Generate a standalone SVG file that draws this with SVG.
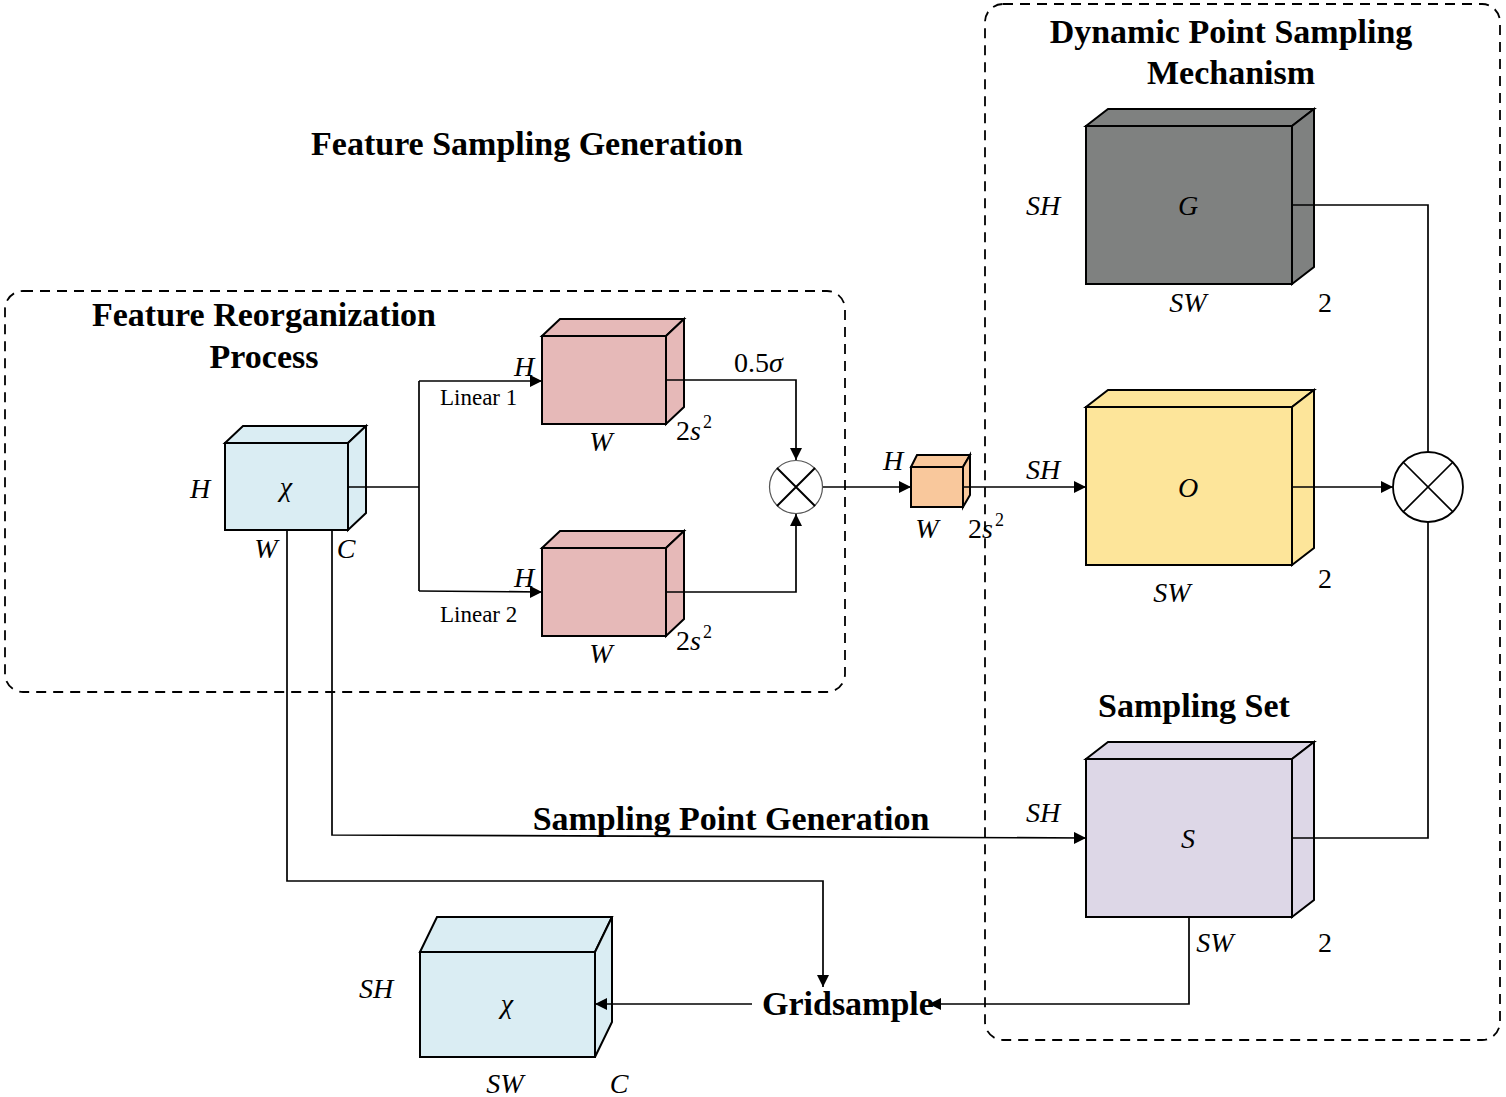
<svg xmlns="http://www.w3.org/2000/svg" width="1506" height="1097" viewBox="0 0 1506 1097">
<defs>
<style>
.frame{fill:none;stroke:#000;stroke-width:1.8;stroke-dasharray:10 7}
.edge{stroke:#000;stroke-width:2;stroke-linejoin:miter}
.ln{fill:none;stroke:#000;stroke-width:1.7}
.arr{fill:none;stroke:#000;stroke-width:1.7;marker-end:url(#ah)}
.title{font-family:"Liberation Serif",serif;font-weight:bold;font-size:34px;fill:#000;text-anchor:middle}
.it{font-family:"Liberation Serif",serif;font-style:italic;font-size:28px;fill:#000;text-anchor:middle}
.rm{font-family:"Liberation Serif",serif;font-size:28px;fill:#000}
.sm{font-family:"Liberation Serif",serif;font-size:23px;fill:#000}
.blue{fill:#daedf3}
.pink{fill:#e6b9b8}
.orange{fill:#f9c89c}
.gray{fill:#7f8180}
.yellow{fill:#fde59a}
.lav{fill:#ddd7e7}
</style>
<marker id="ah" viewBox="0 0 10 10" refX="10" refY="5" markerWidth="12" markerHeight="12" markerUnits="userSpaceOnUse" orient="auto">
<path d="M0,0 L10,5 L0,10 z" fill="#000"/>
</marker>
</defs>
<rect width="1506" height="1097" fill="#fff"/>

<g id="frames">
<rect class="frame" x="5" y="291" width="840" height="401" rx="18"/>
<rect class="frame" x="985" y="4" width="515" height="1036" rx="18"/>
</g>

<g id="titles">
<text class="title" x="527" y="155">Feature Sampling Generation</text>
<text class="title" x="264" y="326">Feature Reorganization</text>
<text class="title" x="264" y="368">Process</text>
<text class="title" x="1231" y="43">Dynamic Point Sampling</text>
<text class="title" x="1231" y="84">Mechanism</text>
<text class="title" x="1194" y="717">Sampling Set</text>
<text class="title" x="731" y="830">Sampling Point Generation</text>
</g>

<g id="node-x">
<polygon class="blue edge" points="225,443 243,426 366,426 348,443"/>
<polygon class="blue edge" points="348,443 366,426 366,513 348,530"/>
<rect class="blue edge" x="225" y="443" width="123" height="87"/>
<text class="it" x="286" y="496" font-size="31">χ</text>
<text class="it" x="200" y="498">H</text>
<text class="it" x="266" y="558">W</text>
<text class="it" x="346" y="558">C</text>
</g>

<g id="node-linear1">
<polygon class="pink edge" points="542,336 560,319 684,319 666,336"/>
<polygon class="pink edge" points="666,336 684,319 684,407 666,424"/>
<rect class="pink edge" x="542" y="336" width="124" height="88"/>
<text class="it" x="524" y="376">H</text>
<text class="it" x="601" y="451">W</text>
<text class="rm" x="676" y="440">2<tspan font-style="italic">s</tspan><tspan font-size="18" dx="2" dy="-12">2</tspan></text>
</g>

<g id="node-linear2">
<polygon class="pink edge" points="542,548 560,531 684,531 666,548"/>
<polygon class="pink edge" points="666,548 684,531 684,619 666,636"/>
<rect class="pink edge" x="542" y="548" width="124" height="88"/>
<text class="it" x="524" y="587">H</text>
<text class="it" x="601" y="663">W</text>
<text class="rm" x="676" y="650">2<tspan font-style="italic">s</tspan><tspan font-size="18" dx="2" dy="-12">2</tspan></text>
</g>

<g id="node-mult1">
<circle cx="796" cy="487" r="26.5" fill="#fff" stroke="#555" stroke-width="1.2"/>
<path fill="none" stroke="#000" stroke-width="2" d="M777,468 L815,506 M815,468 L777,506"/>
</g>

<g id="node-feat">
<polygon class="orange edge" points="911,467 917,455 970,455 963,467"/>
<polygon class="orange edge" points="963,467 970,455 970,495 963,507"/>
<rect class="orange edge" x="911" y="467" width="52" height="40"/>
<text class="it" x="893" y="470">H</text>
<text class="it" x="927" y="538">W</text>
<text class="rm" x="968" y="538">2<tspan font-style="italic">s</tspan><tspan font-size="18" dx="2" dy="-12">2</tspan></text>
</g>

<g id="node-G">
<polygon class="gray edge" points="1086,126 1108,109 1314,109 1292,126"/>
<polygon class="gray edge" points="1292,126 1314,109 1314,267 1292,284"/>
<rect class="gray edge" x="1086" y="126" width="206" height="158"/>
<text class="it" x="1188" y="215">G</text>
<text class="it" x="1043" y="215">SH</text>
<text class="it" x="1188" y="312">SW</text>
<text class="rm" x="1325" y="312" text-anchor="middle">2</text>
</g>

<g id="node-O">
<polygon class="yellow edge" points="1086,407 1108,390 1314,390 1292,407"/>
<polygon class="yellow edge" points="1292,407 1314,390 1314,548 1292,565"/>
<rect class="yellow edge" x="1086" y="407" width="206" height="158"/>
<text class="it" x="1188" y="497">O</text>
<text class="it" x="1043" y="479">SH</text>
<text class="it" x="1172" y="602">SW</text>
<text class="rm" x="1325" y="588" text-anchor="middle">2</text>
</g>

<g id="node-S">
<polygon class="lav edge" points="1086,759 1108,742 1314,742 1292,759"/>
<polygon class="lav edge" points="1292,759 1314,742 1314,900 1292,917"/>
<rect class="lav edge" x="1086" y="759" width="206" height="158"/>
<text class="it" x="1188" y="848">S</text>
<text class="it" x="1043" y="822">SH</text>
<text class="it" x="1215" y="952">SW</text>
<text class="rm" x="1325" y="952" text-anchor="middle">2</text>
</g>

<g id="node-mult2">
<circle cx="1428" cy="487" r="35" fill="#fff" stroke="#000" stroke-width="1.8"/>
<path class="ln" d="M1403,462 L1453,512 M1453,462 L1403,512"/>
</g>

<g id="node-gridsample">
<text x="762" y="1015" font-family="Liberation Serif, serif" font-weight="bold" font-size="34">Gridsample</text>
</g>

<g id="node-out">
<polygon class="blue edge" points="420,952 437,917 612,917 595,952"/>
<polygon class="blue edge" points="595,952 612,917 612,1022 595,1057"/>
<rect class="blue edge" x="420" y="952" width="175" height="105"/>
<text class="it" x="507" y="1013" font-size="31">χ</text>
<text class="it" x="376" y="998">SH</text>
<text class="it" x="505" y="1093">SW</text>
<text class="it" x="619" y="1093">C</text>
</g>

<g id="connectors">
<path class="ln" d="M348,487 L419,487"/>
<path class="ln" d="M419,381 L419,591"/>
<path class="arr" d="M419,381 L542,381"/>
<path class="arr" d="M419,591 L542,592"/>
<text class="sm" x="440" y="405">Linear 1</text>
<text class="sm" x="440" y="622">Linear 2</text>
<path class="arr" d="M666,380 L796,380 L796,460"/>
<text class="rm" x="734" y="372" font-size="27">0.5<tspan font-style="italic">σ</tspan></text>
<path class="arr" d="M666,592 L796,592 L796,514"/>
<path class="arr" d="M823,487 L911,487"/>
<path class="arr" d="M963,487 L1086,487"/>
<path class="ln" d="M1292,205 L1428,205 L1428,452"/>
<path class="arr" d="M1292,487 L1393,487"/>
<path class="ln" d="M1292,838 L1428,838 L1428,522"/>
<path class="arr" d="M332,530 L332,835 L1086,838"/>
<path class="arr" d="M287,530 L287,881 L823,881 L823,987"/>
<path class="arr" d="M1189,917 L1189,1004 L929,1004"/>
<path class="arr" d="M752,1004 L595,1004"/>
</g>
</svg>
